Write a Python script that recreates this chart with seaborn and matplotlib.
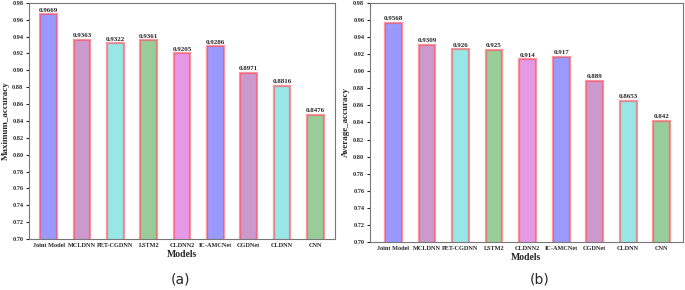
import pandas as pd
import numpy as np

import matplotlib.pyplot as plt
import seaborn as sns

models = ['Joint Model', 'MCLDNN', 'PET-CGDNN', 'LSTM2', 'CLDNN2',
          'IC-AMCNet', 'CGDNet', 'CLDNN', 'CNN']
max_acc = [0.9669, 0.9363, 0.9322, 0.9361, 0.9205, 0.9286, 0.8971, 0.8816, 0.8476]
avg_acc = [0.9568, 0.9309, 0.926, 0.925, 0.914, 0.917, 0.889, 0.8653, 0.842]
max_labels = ['0.9669', '0.9363', '0.9322', '0.9361', '0.9205', '0.9286', '0.8971', '0.8816', '0.8476']
avg_labels = ['0.9568', '0.9309', '0.926', '0.925', '0.914', '0.917', '0.889', '0.8653', '0.842']

bar_colors = ['#9999ff', '#cc99cc', '#99e6e6', '#99cc99', '#e699e6',
              '#9999ff', '#cc99cc', '#99e6e6', '#99cc99']

sns.set_style('white')
plt.rcParams['font.family'] = ['Liberation Serif', 'DejaVu Serif']
plt.rcParams['font.weight'] = 'bold'

fig = plt.figure(figsize=(6.85, 2.9), dpi=100)
ax1 = fig.add_axes([0.0423, 0.176, 0.447, 0.814])
ax2 = fig.add_axes([0.540, 0.1655, 0.457, 0.8245])

panels = [(ax1, max_acc, max_labels, 'Maximum_accuracy', '(a)', (-0.59, 8.59), 0.263),
          (ax2, avg_acc, avg_labels, 'Average_accuracy', '(b)', (-0.7, 8.63), 0.788)]

for ax, vals, labs, ylab, tag, xl, tx in panels:
    df = pd.DataFrame({'Models': models, 'acc': vals})
    sns.barplot(data=df, x='Models', y='acc', hue='Models', palette=bar_colors,
                legend=False, width=0.5, saturation=1, ax=ax,
                edgecolor=(1, 0.3, 0.35, 0.6), linewidth=1.6)
    for cont, lab in zip(ax.containers, labs):
        ax.bar_label(cont, labels=[lab], fontsize=5, fontweight='bold', padding=1)
    ax.set_ylim(0.70, 0.98)
    ticks = np.arange(0.70, 0.981, 0.02)
    ax.set_yticks(ticks)
    ax.set_yticklabels(['%.2f' % t for t in ticks])
    ax.tick_params(axis='y', labelsize=4.5, length=2, left=True, pad=2)
    ax.tick_params(axis='x', labelsize=4.5, length=0, pad=3)
    ax.set_xlim(*xl)
    ax.set_xlabel('Models', fontsize=7, fontweight='bold', labelpad=1)
    ax.set_ylabel(ylab, fontsize=6.5, fontweight='bold', labelpad=2)
    for s in ax.spines.values():
        s.set_color('#777777')
        s.set_linewidth(0.8)
    fig.text(tx, 0.035, tag, ha='center', va='center',
             fontsize=10, fontweight='normal', family=['DejaVu Sans'])

plt.savefig('out.png', dpi=100)
